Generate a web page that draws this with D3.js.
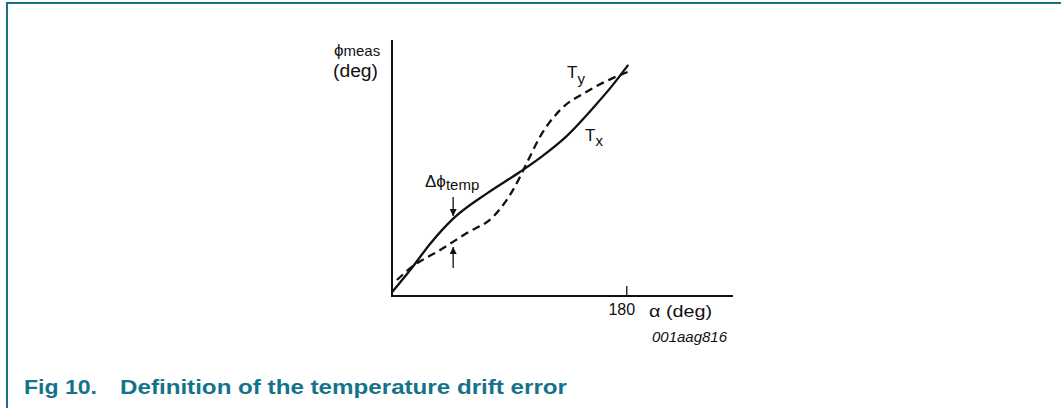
<!DOCTYPE html>
<html><head><meta charset="utf-8">
<script src="https://cdn.jsdelivr.net/npm/d3@7"></script>
<style>
html,body{margin:0;padding:0;background:#fff;}
svg{display:block;font-family:"Liberation Sans",Arial,sans-serif;}
</style></head>
<body>
<svg id="chart" width="1061" height="408"></svg>
<script>
// ---- data (alpha in deg, phi_meas in deg) ----
const txAlpha = [0, 14, 30, 47, 73, 98.5, 115, 134, 155, 170, 181.5];
const txPhi   = [3, 20.5, 42, 61, 81, 98, 110, 126, 149, 167, 182.4];
const tyAlpha = [3.8, 14, 37, 57.5, 77.7, 93, 103.6, 113.8, 129.2, 149.8, 170, 181.5];
const tyPhi   = [12.6, 22, 36.3, 49.7, 62.6, 83.7, 105, 125.8, 146.8, 161.3, 172.1, 177];
const xTicks = [180];
const deltaAlpha = 47;          // where the Δφtemp arrows sit
const labels = {
  yTitle: ["ϕ", "meas"], yUnit: "(deg)", xTitle: "α (deg)",
  tx: ["T", "x"], ty: ["T", "y"], delta: ["Δϕ", "temp"],
  code: "001aag816", figNo: "Fig 10.", figTitle: "Definition of the temperature drift error"
};

const svg = d3.select("#chart");
const teal = "#14738a";
const ink = "#111";

// frame
svg.append("path").attr("d", "M7,408 V3 H1061").attr("fill", "none")
  .attr("stroke", "#1a6f82").attr("stroke-width", 2);

const x = d3.scaleLinear().domain([0, 262]).range([392, 733]);
const y = d3.scaleLinear().domain([0, 202]).range([296, 40]);

// axes
const g = svg.append("g");
g.append("line").attr("x1", x(0)).attr("x2", x(0)).attr("y1", y(202)).attr("y2", y(0) + 1)
  .attr("stroke", ink).attr("stroke-width", 2);
g.append("line").attr("x1", x(0) - 1).attr("x2", x(262)).attr("y1", y(0)).attr("y2", y(0))
  .attr("stroke", ink).attr("stroke-width", 2);

const xAxis = d3.axisBottom(x).tickValues(xTicks).tickSize(-10).tickFormat(d3.format("d")).tickPadding(8);
const ax = g.append("g").attr("transform", `translate(0,${y(0)})`).call(xAxis);
ax.select(".domain").remove();
ax.selectAll(".tick line").attr("stroke", ink).attr("stroke-width", 1.3);
ax.selectAll(".tick text").attr("font-size", 16).attr("fill", ink)
  .attr("font-family", "Liberation Sans, Arial, sans-serif").attr("dx", -5);

// curves
const line = d3.line().x(d => x(d[0])).y(d => y(d[1])).curve(d3.curveMonotoneX);
const tx = d3.zip(txAlpha, txPhi);
const ty = d3.zip(tyAlpha, tyPhi);
g.append("path").attr("d", line(ty)).attr("fill", "none").attr("stroke", ink)
  .attr("stroke-width", 2.3).attr("stroke-dasharray", "8,5");
g.append("path").attr("d", line(tx)).attr("fill", "none").attr("stroke", ink)
  .attr("stroke-width", 2.3);

// delta arrows
svg.append("defs").append("marker").attr("id", "ah").attr("viewBox", "0 0 10 10")
  .attr("refX", 10).attr("refY", 5).attr("markerWidth", 7).attr("markerHeight", 7)
  .attr("markerUnits", "userSpaceOnUse").attr("orient", "auto")
  .append("path").attr("d", "M0,0 L10,5 L0,10 Z").attr("fill", ink);
const ax0 = x(deltaAlpha);
g.append("line").attr("x1", ax0).attr("x2", ax0).attr("y1", 197).attr("y2", 216)
  .attr("stroke", ink).attr("stroke-width", 1.3).attr("marker-end", "url(#ah)");
g.append("line").attr("x1", ax0).attr("x2", ax0).attr("y1", 268).attr("y2", 247)
  .attr("stroke", ink).attr("stroke-width", 1.3).attr("marker-end", "url(#ah)");

// text helper with subscript
function subText(px, py, main, sub, size, subSize, drop) {
  const t = svg.append("text").attr("x", px).attr("y", py).attr("font-size", size).attr("fill", ink);
  t.append("tspan").text(main);
  t.append("tspan").attr("dy", drop).attr("font-size", subSize).text(sub);
  return t;
}
subText(334, 56, labels.yTitle[0], labels.yTitle[1], 17, 15, 0);
svg.append("text").attr("x", 333).attr("y", 77).attr("font-size", 18).attr("fill", ink)
  .attr("textLength", 45).attr("lengthAdjust", "spacingAndGlyphs").text(labels.yUnit);
subText(567, 78, labels.ty[0], labels.ty[1], 17, 15, 6);
subText(585, 141, labels.tx[0], labels.tx[1], 17, 15, 5);
subText(425, 187, labels.delta[0], labels.delta[1], 17, 15, 3);
svg.append("text").attr("x", 649).attr("y", 317).attr("font-size", 17).attr("fill", ink)
  .attr("textLength", 63).attr("lengthAdjust", "spacingAndGlyphs").text(labels.xTitle);
svg.append("text").attr("x", 652).attr("y", 342).attr("font-size", 14).attr("font-style", "italic")
  .attr("fill", ink).attr("textLength", 75).attr("lengthAdjust", "spacingAndGlyphs").text(labels.code);

// caption
svg.append("text").attr("x", 24).attr("y", 394).attr("font-size", 21).attr("font-weight", "bold")
  .attr("fill", teal).attr("textLength", 73).attr("lengthAdjust", "spacingAndGlyphs").text(labels.figNo);
svg.append("text").attr("x", 120).attr("y", 394).attr("font-size", 21).attr("font-weight", "bold")
  .attr("fill", teal).attr("textLength", 447).attr("lengthAdjust", "spacingAndGlyphs").text(labels.figTitle);
</script>
</body></html>
